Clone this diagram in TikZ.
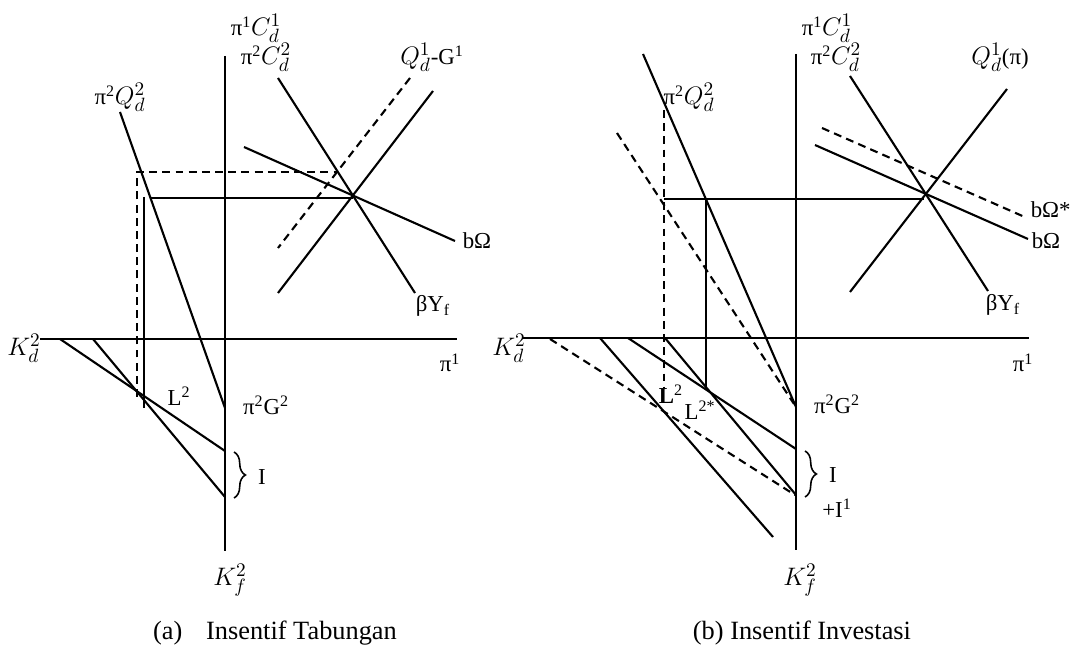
\documentclass[tikz,border=0pt]{standalone}
\usepackage{fontspec}
\setmainfont{Liberation Serif}
\usepackage{tikz}
\usetikzlibrary{
positioning,
decorations.pathreplacing
}
% italic variable with stacked sub- and superscript
\newcommand{\mv}[3]{{\fontsize{14.5}{16}\selectfont$#1_{\hbox{\fontsize{10.5}{11}\selectfont$#2$}}^{\hbox{\fontsize{10.5}{11}\selectfont$#3$}}$}}

\begin{document}
\begin{tikzpicture}[
  x=0.02cm, y=-0.02cm,
  line width=1.2pt,
  guide/.style={dash pattern=on 4.5pt off 3pt},
  lbl/.style={font=\fontsize{13}{15}\selectfont, inner sep=1pt},
  caption/.style={font=\fontsize{15}{18}\selectfont, inner sep=1pt},
  ibrace/.style={decorate, decoration={brace, amplitude=6.5pt}, line width=0.9pt}
]
\useasboundingbox (0,0) rectangle (1072,648);

%% ============================================================
%%  LEFT PANEL — (a) INSENTIF TABUNGAN
%% ============================================================
\coordinate (Ea) at (353,198);   % equilibrium
\coordinate (Ga) at (225,408);   % pi^2 G^2
\coordinate (Ia) at (225,451);
\coordinate (Ib) at (225,497);

%% Axes
\draw (225,56) -- (225,551);
\draw (40,339) -- (457,339);

%% Upper quadrant
\draw (120,112) -- (Ga);
\draw[guide] (137,397) -- (137,172) -- (338,172);
\draw (144,197) -- (144,408);
\draw (151,198) -- (Ea);
\draw (278,78) -- (415,293);
\draw (433,91) -- (278,293);
\draw[guide] (410,78) -- (278,248);
\draw (244,147) -- (455,241);

%% Lower quadrant
\draw (60,339) -- (Ia);
\draw (93,339) -- (Ib);
\draw[ibrace] (234,452) -- (234,498);

%% Labels
\node[lbl] (aC1)  at (256,28)  {π\textsuperscript{1}\mv{C}{d}{1}};
\node[lbl] (aC2)  at (266,57)  {π\textsuperscript{2}\mv{C}{d}{2}};
\node[lbl] (aQG)  at (432,57)  {\mv{Q}{d}{1}-G\textsuperscript{1}};
\node[lbl] (aQ2)  at (120,97)  {π\textsuperscript{2}\mv{Q}{d}{2}};
\node[lbl] (aOm)  at (477,241) {bΩ};
\node[lbl] (aYf)  at (433,306) {βY\textsubscript{f}};
\node[lbl] (aKd)  at (24,348)  {\mv{K}{d}{2}};
\node[lbl] (api)  at (450,363) {π\textsuperscript{1}};
\node[lbl] (aL)   at (179,396) {L\textsuperscript{2}};
\node[lbl] (aG2)  at (266,405) {π\textsuperscript{2}G\textsuperscript{2}};
\node[lbl] (aI)   at (262,477) {I};
\node[lbl] (aKf)  at (230,580) {\mv{K}{f}{2}};
\node[caption] (capA) at (275,633) {(a)\hspace{0.9em}Insentif Tabungan};

%% ============================================================
%%  RIGHT PANEL — (b) INSENTIF INVESTASI
%% ============================================================
\coordinate (Eb) at (924,199);   % equilibrium
\coordinate (Gb) at (796,407);   % pi^2 G^2
\coordinate (Lb) at (706,388);   % L^2*
\coordinate (Jb) at (796,449);
\coordinate (Kb) at (796,495);

%% Axes
\draw (796,54) -- (796,550);
\draw (523,338) -- (1029,338);

%% Upper quadrant
\draw (643,54) -- (Gb);
\draw[guide] (617,133) -- (794,404);
\draw[guide] (664,110) -- (664,388);
\draw (664,199) -- (Eb);
\draw (706,199) -- (Lb);
\draw (850,76) -- (988,291);
\draw (1007,89) -- (850,292);
\draw (815,145) -- (1028,239);
\draw[guide] (822,128) -- (1027,218);

%% Lower quadrant
\draw[guide] (550,339) -- (795,495);
\draw (600,338) -- (773,537);
\draw (628,338) -- (Jb);
\draw (665,338) -- (Kb);
\draw[ibrace] (805,451) -- (805,497);

%% Labels
\node[lbl] (bC1)  at (827,28)  {π\textsuperscript{1}\mv{C}{d}{1}};
\node[lbl] (bC2)  at (836,57)  {π\textsuperscript{2}\mv{C}{d}{2}};
\node[lbl] (bQ1)  at (1000,57) {\mv{Q}{d}{1}(π)};
\node[lbl] (bQ2)  at (689,97)  {π\textsuperscript{2}\mv{Q}{d}{2}};
\node[lbl, anchor=west] (bOms) at (1028,210) {bΩ*};
\node[lbl, anchor=west] (bOm)  at (1029,241) {bΩ};
\node[lbl] (bYf)  at (1003,305) {βY\textsubscript{f}};
\node[lbl] (bKd)  at (509,348) {\mv{K}{d}{2}};
\node[lbl] (bpi)  at (1023,363) {π\textsuperscript{1}};
\node[lbl] (bL)   at (671,394) {\textbf{L}\textsuperscript{2}};
\node[lbl] (bLs)  at (700,410) {L\textsuperscript{2*}};
\node[lbl] (bG2)  at (837,404) {π\textsuperscript{2}G\textsuperscript{2}};
\node[lbl] (bI)   at (833,475) {I};
\node[lbl] (bI1)  at (837,508) {+I\textsuperscript{1}};
\node[lbl] (bKf)  at (800,580) {\mv{K}{f}{2}};
\node[caption] (capB) at (802,633) {(b) Insentif Investasi};

\end{tikzpicture}
\end{document}
